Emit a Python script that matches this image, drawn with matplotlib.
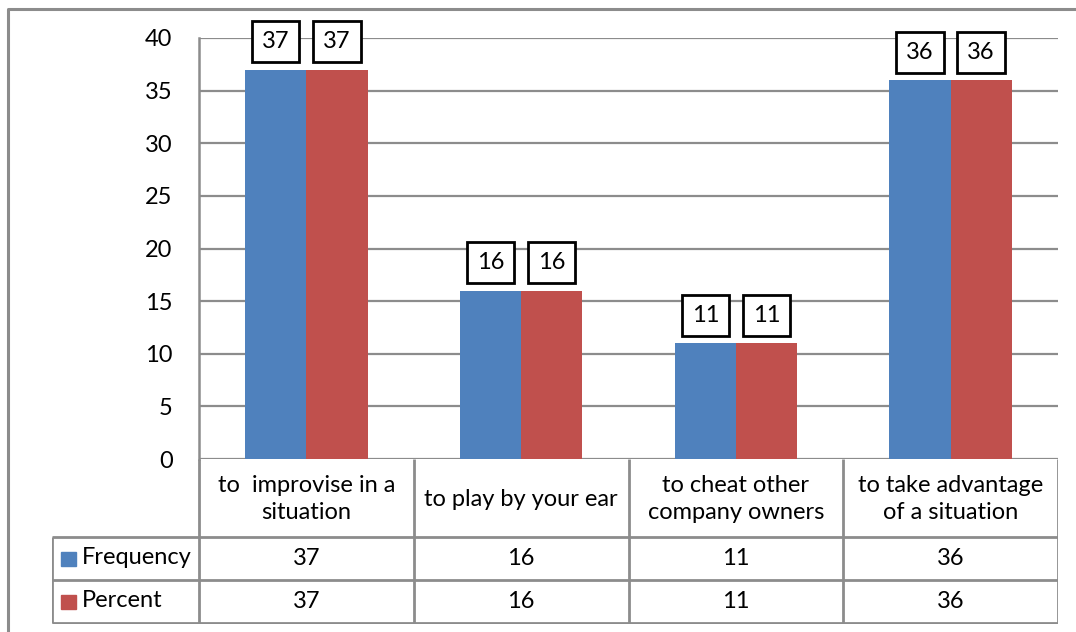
import matplotlib
matplotlib.use("Agg")
import matplotlib.pyplot as plt
from matplotlib.patches import Rectangle
import numpy as np

categories = ["to  improvise in a\nsituation", "to play by your ear",
              "to cheat other\ncompany owners", "to take advantage\nof a situation"]
series_names = ["Frequency", "Percent"]
frequency = [37, 16, 11, 36]
percent = [37, 16, 11, 36]
y_ticks = [0, 5, 10, 15, 20, 25, 30, 35, 40]

colors = ["#4F81BD", "#C0504D"]
grid_c = "#8C8C8C"
FONT = ["Lato", "DejaVu Sans"]
plt.rcParams["font.family"] = FONT
FS = 17

W, H = 1076, 632
fig = plt.figure(figsize=(W / 100, H / 100), dpi=100)

def px_rect(x0, y0, x1, y1):
    return [x0 / W, 1 - y1 / H, (x1 - x0) / W, (y1 - y0) / H]

# outer frame
frame = fig.add_axes([0, 0, 1, 1], zorder=-5)
frame.set_xlim(0, W); frame.set_ylim(H, 0); frame.axis("off")
frame.plot([8, 8, W + 5], [H + 5, 9, 9], color="#8C8C8C", lw=2.2)

# plot area
PX0, PX1, PY0, PY1 = 199, 1058, 38, 459
ax = fig.add_axes(px_rect(PX0, PY0, PX1, PY1))
n = len(categories)
x = np.arange(n)
bw = 0.285
ax.set_xlim(-0.5, n - 0.5)
ax.set_ylim(0, 40)
ax.set_yticks(y_ticks)
ax.set_yticklabels([str(t) for t in y_ticks], fontsize=FS)
ax.tick_params(axis="y", length=0, pad=19)
ax.set_xticks([])
ax.yaxis.grid(True, color=grid_c, lw=1.6)
ax.set_axisbelow(True)
for s in ["top", "right", "bottom"]:
    ax.spines[s].set_visible(False)
ax.spines["left"].set_color(grid_c)
ax.spines["left"].set_linewidth(1.8)

for k, vals in enumerate([frequency, percent]):
    xs = x + (k - 0.5) * bw
    ax.bar(xs, vals, width=bw, color=colors[k], zorder=3)
    for xi, v in zip(xs, vals):
        ax.annotate(str(v), (xi, v), xytext=(0, 20), textcoords="offset points",
                    ha="center", va="center", fontsize=FS, zorder=5,
                    bbox=dict(boxstyle="square,pad=0.42", fc="white", ec="black", lw=2.0))

# data table below the plot area
TX0, TY1 = 52, 624
cat_w = (PX1 - PX0) / n
tab = fig.add_axes(px_rect(TX0, PY1, PX1, TY1))
tab.set_xlim(-0.5 - (PX0 - TX0) / cat_w, n - 0.5)
tab.set_ylim(TY1 - PY1, 0)
tab.axis("off")
row_y = [0, 78, 121, 164]
lkw = dict(color=grid_c, lw=2.0, solid_capstyle="butt")
left = -0.5 - (PX0 - TX0) / cat_w
for b in np.arange(-0.5, n, 1.0):
    tab.plot([b, b], [0, row_y[-1]], **lkw)
tab.plot([left, left], [row_y[1], row_y[-1]], **lkw)
for yy in row_y[1:]:
    tab.plot([left, n - 0.5], [yy, yy], **lkw)
for i, c in enumerate(categories):
    tab.text(i, (row_y[0] + row_y[1]) / 2 + 1, c, ha="center", va="center",
             fontsize=FS, linespacing=1.4)
for r, (name, vals) in enumerate(zip(series_names, [frequency, percent])):
    yc = (row_y[r + 1] + row_y[r + 2]) / 2
    tab.add_patch(Rectangle((left + 0.042, yc - 7), 0.07, 14, color=colors[r]))
    tab.text(left + 0.138, yc - 1, name, ha="left", va="center", fontsize=FS)
    for i, v in enumerate(vals):
        tab.text(i, yc, str(v), ha="center", va="center", fontsize=FS)

fig.savefig("out.png", dpi=100)
